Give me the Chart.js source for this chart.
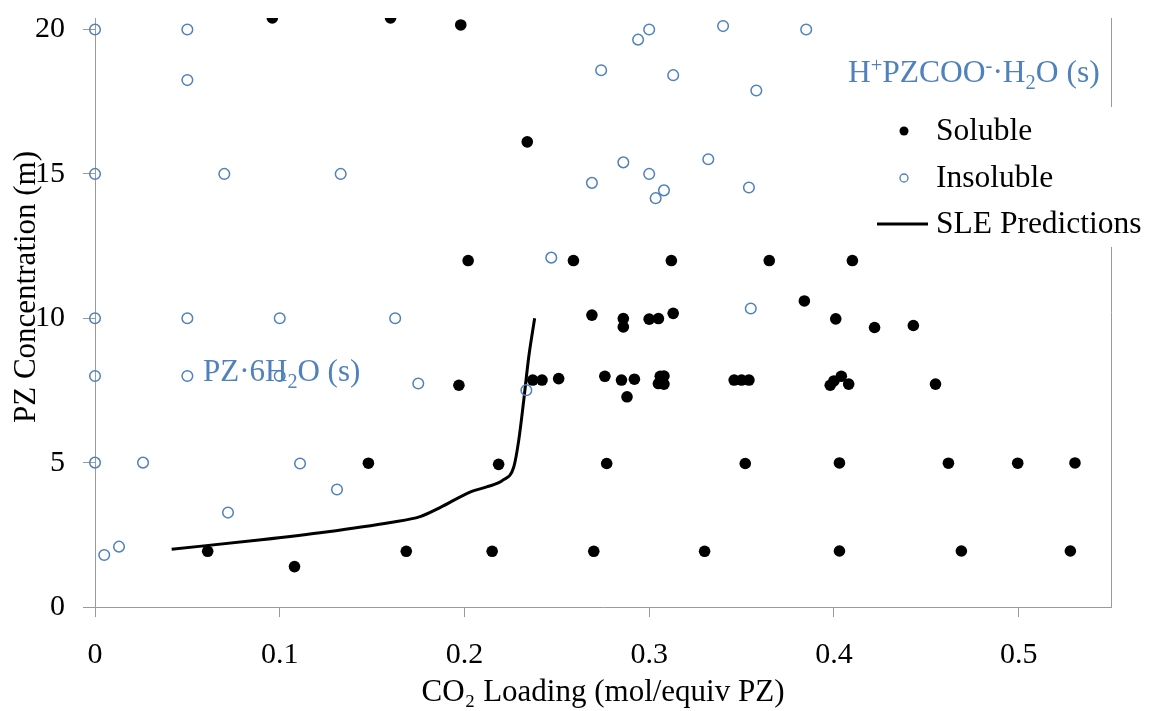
<!DOCTYPE html>
<html>
<head>
<meta charset="utf-8">
<script src="https://cdn.jsdelivr.net/npm/chart.js@4"></script>
<style>
  html, body { margin: 0; padding: 0; background: #fff; }
  #wrap { width: 1149px; height: 711px; position: relative; }
</style>
</head>
<body>
<div id="wrap"><canvas id="chart"></canvas></div>
<script>
// Soluble points (filled black)
const solubleX = [0.096, 0.160, 0.198, 0.234,
  0.202, 0.259, 0.312, 0.365, 0.410,
  0.269, 0.286, 0.286, 0.300, 0.305, 0.313, 0.384, 0.401, 0.422, 0.443,
  0.197, 0.237, 0.242, 0.251, 0.276, 0.285, 0.292, 0.288, 0.306, 0.308, 0.305, 0.308,
  0.346, 0.350, 0.354, 0.398, 0.400, 0.404, 0.408, 0.455,
  0.148, 0.2185, 0.277, 0.352, 0.403, 0.462, 0.4995, 0.5305,
  0.061, 0.108, 0.1685, 0.215, 0.270, 0.330, 0.403, 0.469, 0.528];
const solubleY = [20.4, 20.4, 20.16, 16.11,
  12, 12, 12, 12, 12,
  10.11, 9.99, 9.70, 9.97, 9.99, 10.17, 10.6, 9.98, 9.68, 9.75,
  7.68, 7.86, 7.86, 7.91, 7.99, 7.86, 7.89, 7.28, 7.99, 8.0, 7.74, 7.72,
  7.86, 7.86, 7.86, 7.68, 7.83, 7.99, 7.72, 7.72,
  4.98, 4.94, 4.97, 4.97, 4.99, 4.98, 4.98, 4.99,
  1.93, 1.40, 1.93, 1.93, 1.93, 1.93, 1.94, 1.94, 1.94];

// Insoluble points (open blue)
const insolubleX = [0, 0.05, 0.05, 0, 0.07, 0.133,
  0.300, 0.294, 0.340, 0.274, 0.313, 0.358, 0.286, 0.332, 0.269, 0.300, 0.308, 0.3035, 0.354, 0.385,
  0, 0.05, 0.1, 0.1625, 0, 0.05, 0.1, 0, 0.026, 0.111, 0.131,
  0.247, 0.355, 0.175, 0.2335, 0.005, 0.013, 0.072];
const insolubleY = [20, 20, 18.25, 15, 15, 15,
  20, 19.65, 20.12, 18.59, 18.42, 17.89, 15.4, 15.51, 14.69, 15.0, 14.43, 14.16, 14.53, 20,
  10, 10, 10, 10, 8, 8, 8, 5, 5, 4.97, 4.07,
  12.1, 10.34, 7.74, 7.51, 1.8, 2.09, 3.27];

// SLE prediction curve
const sleX = [0.0415, 0.09, 0.125, 0.16, 0.176, 0.187, 0.203, 0.212, 0.221, 0.2267, 0.2294, 0.2321, 0.2348, 0.238];
const sleY = [2.0, 2.33, 2.6, 2.93, 3.13, 3.45, 3.98, 4.16, 4.4, 4.85, 5.78, 7.16, 8.66, 10.0];

const xTicks = [0, 0.1, 0.2, 0.3, 0.4, 0.5];
const yTicks = [0, 5, 10, 15, 20];

const seriesNames = ['Soluble', 'Insoluble', 'SLE Predictions'];
const xTitle = 'CO₂ Loading (mol/equiv PZ)';
const yTitle = 'PZ Concentration (m)';

// region labels, parts marked sub/sup
const regionLabels = [
  { x: 203, y: 381, size: 31, parts: [['PZ·6H'], ['2', 'sub'], ['O (s)']] },
  { x: 848, y: 82, size: 31.5, parts: [['H'], ['+', 'sup'], ['PZCOO'], ['-', 'sup'], ['·H'], ['2', 'sub'], ['O (s)']] }
];

const FONT = "'Liberation Serif', 'Times New Roman', serif";
const BLUE = '#4f81bd';
const AXIS = '#9a9a9a';

function toPoints(xs, ys) {
  return xs.map((x, i) => ({ x: x, y: ys[i] }));
}

function drawRich(ctx, x, y, parts, size, color) {
  ctx.save();
  ctx.fillStyle = color;
  ctx.textBaseline = 'alphabetic';
  ctx.textAlign = 'left';
  let cx = x;
  parts.forEach(p => {
    const kind = p[1];
    const fs = kind ? size * 0.65 : size;
    ctx.font = fs + 'px ' + FONT;
    let dy = 0;
    if (kind === 'sub') dy = size * 0.22;
    if (kind === 'sup') dy = -size * 0.33;
    ctx.fillText(p[0], cx, y + dy);
    cx += ctx.measureText(p[0]).width;
  });
  ctx.restore();
}

const extras = {
  id: 'extras',
  beforeDatasetsDraw(chart) {
    const ctx = chart.ctx, a = chart.chartArea;
    ctx.save();
    ctx.strokeStyle = AXIS;
    ctx.lineWidth = 1;
    ctx.beginPath();
    ctx.moveTo(a.right + 0.5, a.top);
    ctx.lineTo(a.right + 0.5, a.bottom);
    ctx.stroke();
    // y axis title, placed like the original (a bit above centre)
    ctx.translate(27, 287);
    ctx.rotate(-Math.PI / 2);
    ctx.fillStyle = '#000';
    ctx.font = '31px ' + FONT;
    ctx.textAlign = 'center';
    ctx.textBaseline = 'middle';
    ctx.fillText(yTitle, 0, 0);
    ctx.restore();
  },
  afterDatasetsDraw(chart) {
    const ctx = chart.ctx;
    regionLabels.forEach(l => drawRich(ctx, l.x, l.y, l.parts, l.size, BLUE));

    // legend
    ctx.save();
    ctx.fillStyle = '#fff';
    ctx.fillRect(868, 107, 281, 140);
    const rows = [131, 178, 224];
    chart.data.datasets.forEach((ds, i) => {
      const y = rows[i];
      if (i === 0) {
        ctx.fillStyle = '#000';
        ctx.beginPath(); ctx.arc(904, y, 4.5, 0, Math.PI * 2); ctx.fill();
      } else if (i === 1) {
        ctx.strokeStyle = BLUE; ctx.lineWidth = 1.3;
        ctx.beginPath(); ctx.arc(904, y, 4, 0, Math.PI * 2); ctx.stroke();
      } else {
        ctx.strokeStyle = '#000'; ctx.lineWidth = 3;
        ctx.beginPath(); ctx.moveTo(877, y); ctx.lineTo(928, y); ctx.stroke();
      }
      ctx.fillStyle = '#000';
      ctx.font = '31.5px ' + FONT;
      ctx.textBaseline = 'middle';
      ctx.fillText(ds.label, 936, y + 1);
    });
    ctx.restore();
  }
};

const ctx = document.getElementById('chart').getContext('2d');
new Chart(ctx, {
  type: 'scatter',
  data: {
    datasets: [
      {
        label: seriesNames[0],
        data: toPoints(solubleX, solubleY),
        backgroundColor: '#000',
        borderColor: '#000',
        pointRadius: 5.8,
        pointBorderWidth: 0
      },
      {
        label: seriesNames[1],
        data: toPoints(insolubleX, insolubleY),
        backgroundColor: 'rgba(0,0,0,0)',
        borderColor: BLUE,
        pointRadius: 5.3,
        pointBorderWidth: 1.5,
        clip: false
      },
      {
        label: seriesNames[2],
        type: 'line',
        data: toPoints(sleX, sleY),
        borderColor: '#000',
        borderWidth: 3,
        pointRadius: 0,
        fill: false,
        cubicInterpolationMode: 'monotone'
      }
    ]
  },
  options: {
    responsive: true,
    maintainAspectRatio: false,
    animation: false,
    layout: { padding: { top: 18, right: 38, left: 0, bottom: 0 } },
    plugins: {
      legend: { display: false },
      tooltip: { enabled: false }
    },
    scales: {
      x: {
        type: 'linear',
        min: 0,
        max: 0.55,
        afterBuildTicks: s => { s.ticks = xTicks.map(v => ({ value: v })); },
        afterFit: s => { s.height = 104; s.paddingLeft = 0; s.paddingRight = 0; },
        ticks: {
          color: '#000',
          font: { family: FONT, size: 30 },
          padding: 20,
          maxRotation: 0,
          callback: v => v === 0 ? '0' : v.toFixed(1)
        },
        grid: { drawOnChartArea: false, color: AXIS, tickLength: 10 },
        border: { color: AXIS },
        title: {
          display: true,
          text: xTitle,
          color: '#000',
          font: { family: FONT, size: 31 },
          padding: { top: 0, bottom: 0 }
        }
      },
      y: {
        type: 'linear',
        min: 0,
        max: 20.4,
        afterBuildTicks: s => { s.ticks = yTicks.map(v => ({ value: v })); },
        afterFit: s => { s.width = 95; s.paddingTop = 0; s.paddingBottom = 0; },
        ticks: {
          color: '#000',
          font: { family: FONT, size: 30 },
          padding: 18
        },
        grid: { drawOnChartArea: false, color: AXIS, tickLength: 12 },
        border: { color: AXIS },
        title: { display: false, text: yTitle }
      }
    }
  },
  plugins: [extras]
});
</script>
</body>
</html>
